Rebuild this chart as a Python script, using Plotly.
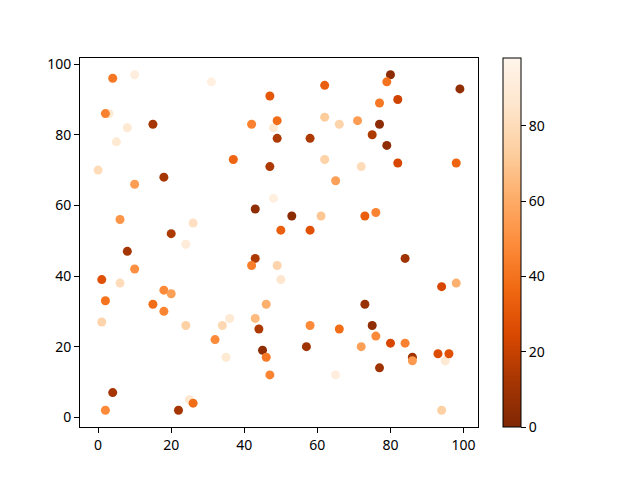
import plotly.graph_objects as go

# Data
x = [4, 10, 31, 3, 2, 8, 5, 15, 0, 10, 18, 6, 26, 20, 24,
     47, 42, 48, 49, 49, 37, 47, 48, 43, 50,
     80, 79, 62, 99, 82, 77, 62, 66, 71, 77, 75, 79, 58, 62, 72, 82, 98, 65,
     53, 61, 73, 76, 58,
     8, 10, 1, 6, 43, 42, 49, 50, 18, 20, 2, 15, 46, 18, 1, 24, 34, 36, 43, 44,
     32, 35, 45, 46, 47, 4, 2, 25, 26, 22,
     84, 94, 98, 73, 75, 58, 66, 76, 57, 72, 80, 84, 86, 86, 95, 93, 96, 77, 65, 94]
y = [96, 97, 95, 86, 86, 82, 78, 83, 70, 66, 68, 56, 55, 52, 49,
     91, 83, 82, 84, 79, 73, 71, 62, 59, 53,
     97, 95, 94, 93, 90, 89, 85, 83, 84, 83, 80, 77, 79, 73, 71, 72, 72, 67,
     57, 57, 57, 58, 53,
     47, 42, 39, 38, 45, 43, 43, 39, 36, 35, 33, 32, 32, 30, 27, 26, 26, 28, 28, 25,
     22, 17, 19, 17, 12, 7, 2, 5, 4, 2,
     45, 37, 38, 32, 26, 26, 25, 23, 20, 20, 21, 21, 17, 16, 16, 18, 18, 14, 12, 2]
c = [42, 92, 94, 88, 45, 88, 88, 12, 80, 55, 12, 52, 82, 14, 90,
     30, 45, 88, 38, 14, 35, 14, 93, 5, 33,
     4, 40, 33, 6, 22, 42, 72, 76, 55, 4, 14, 5, 14, 75, 80, 24, 35, 56,
     4, 70, 33, 46, 28,
     12, 50, 28, 80, 14, 44, 76, 86, 48, 56, 40, 38, 62, 46, 76, 74, 78, 88, 66, 14,
     48, 88, 5, 42, 46, 12, 48, 86, 38, 12,
     10, 24, 62, 8, 5, 48, 38, 48, 10, 56, 24, 45, 10, 54, 88, 26, 28, 10, 92, 74]

oranges_r = [
    [0.0, "#7f2704"], [0.125, "#a63603"], [0.25, "#d94801"],
    [0.375, "#f16913"], [0.5, "#fd8d3c"], [0.625, "#fdae6b"],
    [0.75, "#fdd0a2"], [0.875, "#fee6ce"], [1.0, "#fff5eb"],
]

fig = go.Figure(go.Scatter(
    x=x, y=y, mode="markers",
    marker=dict(
        size=9, color=c, colorscale=oranges_r, cmin=0, cmax=98,
        line=dict(width=0),
        colorbar=dict(
            x=1.063, xanchor="left", y=0.5, yanchor="middle",
            len=1, lenmode="fraction", thickness=18, thicknessmode="pixels",
            outlinewidth=1, outlinecolor="black", xpad=0, ypad=0,
            tickvals=[0, 20, 40, 60, 80], ticks="outside", ticklen=5,
            tickcolor="black", tickfont=dict(size=14, color="black"),
        ),
    ),
))

axis_style = dict(
    showgrid=False, zeroline=False, showline=True, mirror=True,
    linecolor="black", linewidth=1, ticks="outside", ticklen=5,
    tickcolor="black", tickfont=dict(size=14, color="black"),
)

fig.update_xaxes(range=[-4.95, 103.95], tickvals=[0, 20, 40, 60, 80, 100], **axis_style)
fig.update_yaxes(range=[-2.75, 101.75], tickvals=[0, 20, 40, 60, 80, 100], **axis_style)

# page body adds ~8px offset, so margins are shifted to compensate
fig.update_layout(
    width=640, height=480,
    margin=dict(l=72, r=170, t=50, b=61, autoexpand=False),
    paper_bgcolor="white", plot_bgcolor="white",
    font=dict(family="Noto Sans", size=14, color="black"),
    showlegend=False,
)

fig.write_html("out.html")
